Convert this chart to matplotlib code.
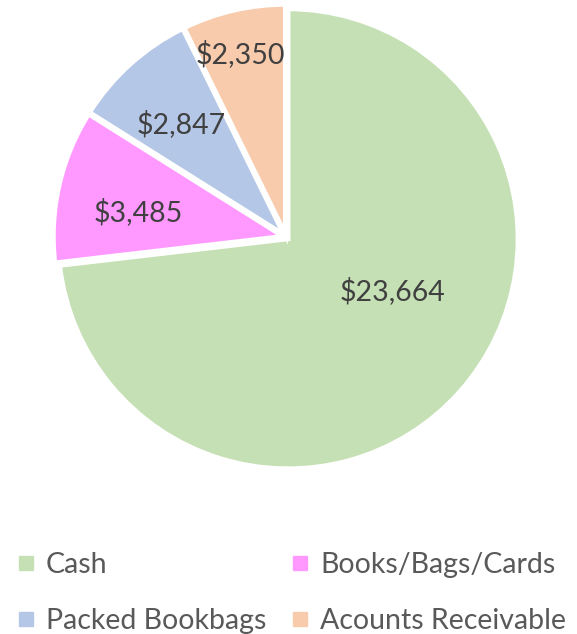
import numpy as np
import matplotlib
matplotlib.use("Agg")
import matplotlib.pyplot as plt
from matplotlib.lines import Line2D

categories = ["Cash", "Books/Bags/Cards", "Packed Bookbags", "Acounts Receivable"]
values = [23664, 3485, 2847, 2350]
colors = ["#C5E0B4", "#FF99FF", "#B4C7E7", "#F8CBAD"]

# label placement (radius, angle offset in degrees) per slice, Excel "best fit" look
label_r = [0.52, 0.65, 0.67, 0.82]
label_shift = [15, 3, 1, 1]

plt.rcParams["font.family"] = ["Lato", "DejaVu Sans"]

W, H = 577, 634
fig = plt.figure(figsize=(W / 100, H / 100), dpi=100)

cx, cy, R = 286, 237, 230
span = 1.1
ax = fig.add_axes([(cx - R * span) / W, (H - cy - R * span) / H,
                   2 * R * span / W, 2 * R * span / H])

wedges, _ = ax.pie(values, colors=colors, startangle=90, counterclock=False,
                   explode=[0.012] * 4,
                   wedgeprops=dict(edgecolor="white", linewidth=3.5))
ax.set_xlim(-span, span)
ax.set_ylim(-span, span)
ax.set_aspect("equal")
ax.axis("off")

for w, v, r, s in zip(wedges, values, label_r, label_shift):
    ang = np.deg2rad((w.theta1 + w.theta2) / 2 + s)
    ax.text(r * np.cos(ang), r * np.sin(ang), f"${v:,}", ha="center", va="center",
            fontsize=20.5, color="#404040")

handles = [Line2D([], [], marker="s", linestyle="none", markersize=10,
                  markerfacecolor=c, markeredgecolor=c) for c in colors]
# legend fills column-wise; reorder so rows read Cash | Books, Packed | Receivable
order = [0, 2, 1, 3]
fig.legend([handles[i] for i in order], [categories[i] for i in order],
           ncol=2, loc="center left",
           bbox_to_anchor=(0.0, (H - 593) / H), frameon=False,
           fontsize=20.5, labelcolor="#595959", handlelength=0.6,
           handletextpad=0.4, columnspacing=0.9, labelspacing=1.05,
           borderaxespad=0.2)

fig.savefig("out.png", dpi=100)
